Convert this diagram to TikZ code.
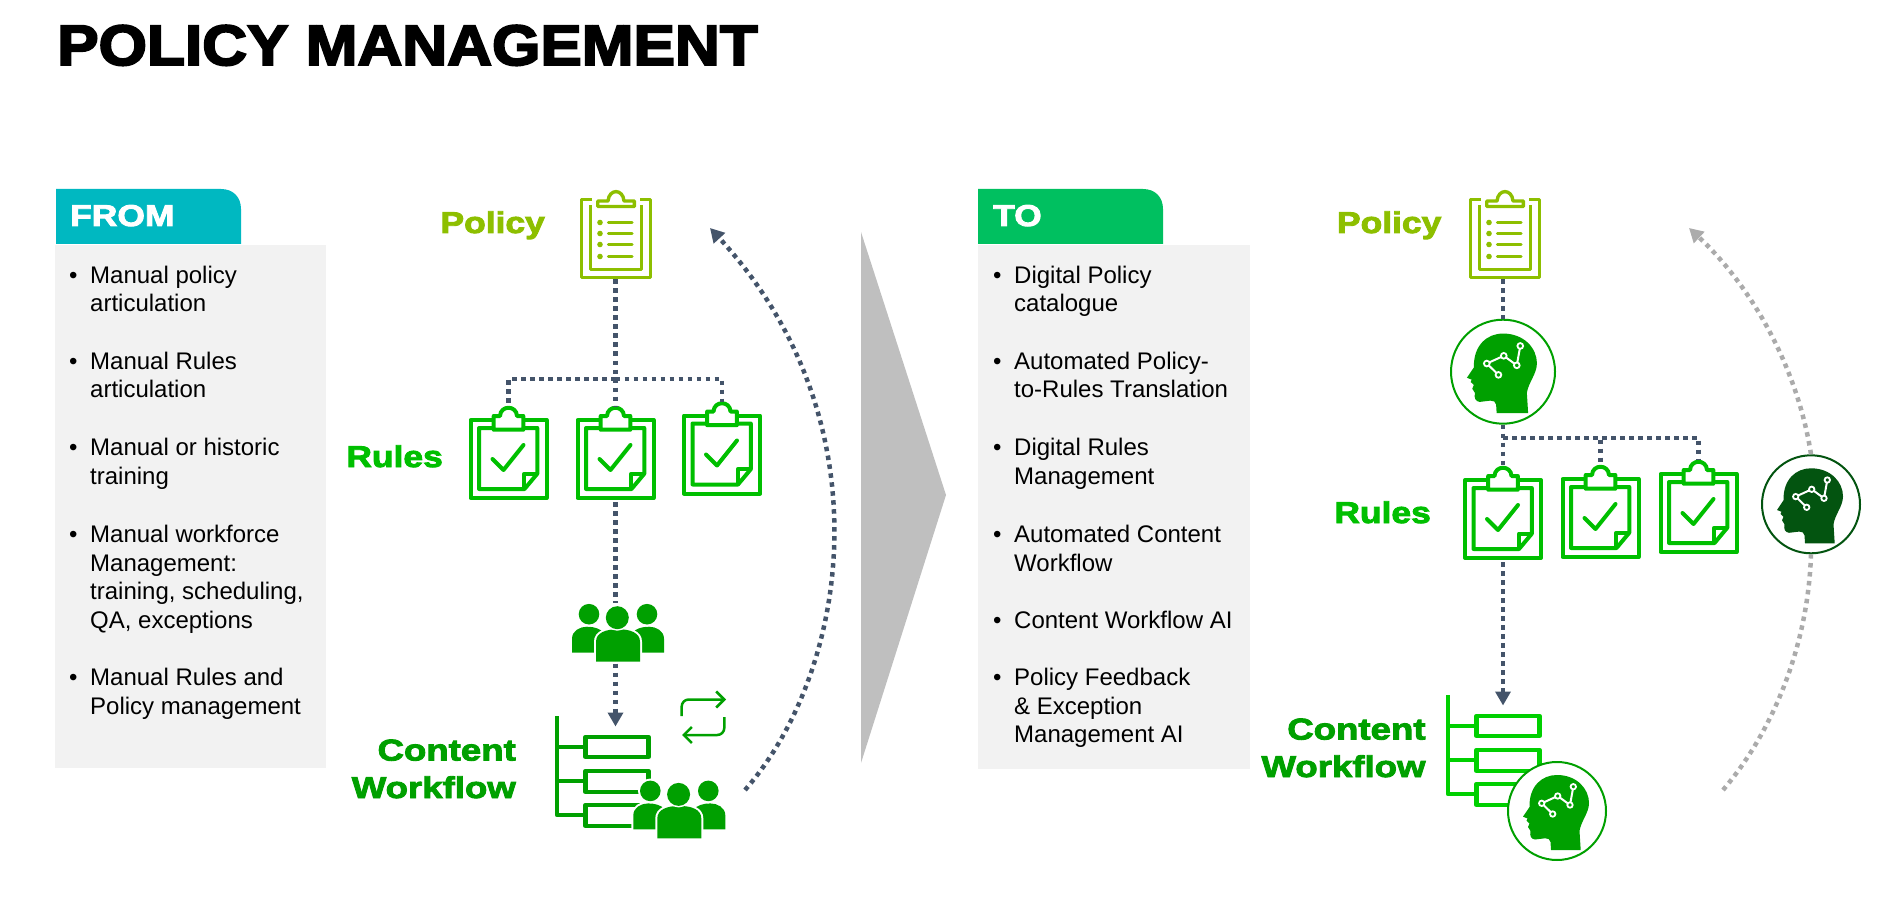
\documentclass[tikz,border=0pt]{standalone}
\usepackage{fontspec}
\usetikzlibrary{arrows.meta}
\setmainfont{Liberation Sans}
\newfontfamily\heavyfont[FakeBold=3,FakeStretch=1.18]{Liberation Sans Bold}
\newfontfamily\wideheavyfont[FakeBold=3,FakeStretch=1.22]{Liberation Sans Bold}
\newfontfamily\titlefont[FakeBold=3.5,FakeStretch=1.09]{Liberation Sans Bold}
\definecolor{fromTeal}{HTML}{00B8C1}
\definecolor{toGreen}{HTML}{00C060}
\definecolor{panelGrey}{HTML}{F2F2F2}
\definecolor{slateBlue}{HTML}{44546A}
\definecolor{policyGreen}{HTML}{8DBF00}
\definecolor{rulesGreen}{HTML}{00BF00}
\definecolor{flowGreen}{HTML}{00A000}
\definecolor{brightGreen}{HTML}{00D000}
\definecolor{darkGreen}{HTML}{035410}
\definecolor{arcGrey}{HTML}{ABABAB}

\tikzset{
    bigtitle/.style={anchor=base west, inner sep=0, font=\titlefont\fontsize{57}{60}\selectfont},
    tabtext/.style={anchor=base west, inner sep=0, text=white, font=\heavyfont\fontsize{30}{34}\selectfont},
    iconlabel/.style={anchor=base east, inner sep=0, align=right, font=\heavyfont\fontsize{30}{37.5}\selectfont},
    flowlabel/.style={iconlabel, text=flowGreen, font=\wideheavyfont\fontsize{30}{37.5}\selectfont},
    listitem/.style={anchor=north west, inner sep=0, align=left, font=\fontsize{24}{28.7}\selectfont},
    iconline/.style={line width=4pt, line join=round},
    flowline/.style={draw=slateBlue, line width=4.5pt, dash pattern=on 4.5pt off 4.5pt},
    flowarrow/.style={flowline, -{Triangle[width=15pt,length=14pt,fill=slateBlue]}},
    greyarrow/.style={draw=arcGrey, line width=4.5pt, dash pattern=on 4.5pt off 4.5pt},
    headring/.style={circle, draw=#1, fill=white, line width=2pt, inner sep=0},
    pics/policyclip/.style={code={
        \draw[iconline, policyGreen, line width=3.4pt] (-24,-39) -- (-34.5,-39) -- (-34.5,39) -- (34.5,39) -- (34.5,-39) -- (24,-39);
        \draw[iconline, policyGreen, line width=3.4pt] (-25.3,-33) -- (-25.3,31) -- (25.3,31) -- (25.3,-33);
        \draw[iconline, policyGreen, line width=3.4pt] (-8,-37.5) -- (-18.3,-37.5) -- (-18.3,-32) -- (18.3,-32) -- (18.3,-37.5) -- (8,-37.5) .. controls (7,-50) and (-7,-50) .. cycle;
        \foreach \ly in {-16,-5,6,18} {
            \fill[policyGreen] (-16,\ly) circle (2.8pt);
            \draw[policyGreen, line width=3.4pt, line cap=round] (-7.5,\ly) -- (16,\ly);
        }
        \coordinate (-bot) at (0,41);
    }},
    pics/rulesclip/.style={code={
        \draw[iconline, rulesGreen] (-15,-39) -- (-38,-39) -- (-38,39) -- (38,39) -- (38,-39) -- (15,-39);
        \draw[iconline, rulesGreen] (-15,-31) -- (-29.5,-31) -- (-29.5,30) -- (16,30) -- (28.8,14.7) -- (28.8,-31) -- (15,-31);
        \draw[iconline, rulesGreen] (15.8,30) -- (15.8,14.7) -- (28.8,14.7);
        \draw[iconline, rulesGreen] (-8.5,-43) -- (-14.8,-43) -- (-14.8,-29.3) -- (14.8,-29.3) -- (14.8,-43) -- (8.5,-43) .. controls (8,-54) and (-8,-54) .. cycle;
        \draw[iconline, rulesGreen, line cap=round] (-16,0) -- (-5,11) -- (15,-14);
        \coordinate (-top) at (0,-53);
        \coordinate (-bot) at (0,43);
    }},
    pics/workflow/.style={code={
        \draw[iconline, #1, line width=4.3pt] (0,0) -- (0,99) -- (28.5,99);
        \draw[iconline, #1, line width=4.3pt] (0,31) -- (28.5,31);
        \draw[iconline, #1, line width=4.3pt] (0,65) -- (28.5,65);
        \draw[iconline, #1, line width=4.3pt] (28.5,21) rectangle (91.5,41);
        \draw[iconline, #1, line width=4.3pt] (28.5,55) rectangle (91.5,76);
        \draw[iconline, #1, line width=4.3pt] (28.5,89) rectangle (91.5,110);
        \coordinate (-top) at (57,10.5);
    }},
    pics/crowd/.style={code={
        \fill[flowGreen, preaction={draw=white, line width=4pt}] (-46,20) -- (-46,6) .. controls (-46,-2) and (-38,-6) .. (-31,-6) .. controls (-24,-6) and (-18,-4) .. (-14,0) -- (-14,20) -- cycle;
        \fill[flowGreen, preaction={draw=white, line width=4pt}] (46,20) -- (46,6) .. controls (46,-2) and (38,-6) .. (31,-6) .. controls (24,-6) and (18,-4) .. (14,0) -- (14,20) -- cycle;
        \fill[flowGreen, preaction={draw=white, line width=4pt}] (-22,29) -- (-22,9) .. controls (-22,0) and (-12,-3.5) .. (0,-3.5) .. controls (12,-3.5) and (22,0) .. (22,9) -- (22,29) -- cycle;
        \fill[flowGreen, preaction={draw=white, line width=4pt}] (-29,-18.5) circle (10.3pt);
        \fill[flowGreen, preaction={draw=white, line width=4pt}] (29,-18.5) circle (10.3pt);
        \fill[flowGreen, preaction={draw=white, line width=3pt}] (-0.7,-15) circle (11.5pt);
        \coordinate (-top) at (-3,-29.5);
        \coordinate (-bot) at (-3,31);
    }},
    pics/brainhead/.style={code={
        \fill[#1] (-34,5.7) -- (-27.5,-4) .. controls (-28,-25) and (-15,-36) .. (0,-36) .. controls (20,-36) and (32,-22) .. (32,-8) .. controls (32,2) and (24,10) .. (22.5,20) -- (23.7,39) -- (-6,39) -- (-6.5,31) .. controls (-7,28) and (-9,27.3) .. (-12,27.3) -- (-22,28.5) .. controls (-26,28) and (-27.5,25) .. (-26.5,20) -- (-29,16) -- (-27.5,12.5) -- (-30.5,9.7) -- (-29.5,7.5) -- cycle;
        \draw[white, line width=2pt] (-4.3,3) -- (-15.3,-7.7) -- (0.7,-15) -- (13,-6) -- (16.3,-24.3);
        \foreach \px/\py in {-4.3/3, -15.3/-7.7, 0.7/-15, 13/-6, 16.3/-24.3} {
            \draw[white, fill=#1, line width=1.8pt] (\px,\py) circle (2.7pt);
        }
    }}
}

\begin{document}
\begin{tikzpicture}[x=1pt, y=-1pt]
    \useasboundingbox (0,0) rectangle (1904,901);

    \node[bigtitle] (title) at (57,65) {POLICY MANAGEMENT};

    % from panel
    \fill[panelGrey] (54.5,245) rectangle (326,768);
    \fill[fromTeal] (56,244) -- (56,189) -- (221,189) .. controls (233,189) and (241,197) .. (241,209) -- (241,244) -- cycle;
    \node[tabtext] (fromtab) at (70,226) {FROM};
    \foreach \y/\txt in {265.5/{Manual policy\\articulation}, 351.5/{Manual Rules\\articulation}, 438/{Manual or historic\\training}, 525/{Manual workforce\\Management:\\training, scheduling,\\QA, exceptions}, 668/{Manual Rules and\\Policy management}} {
        \node[listitem] (fromitem\y) at (90,\y) {\txt};
        \node[listitem] (frombullet\y) at (69,\y) {•\vphantom{Ml}};
    }

    % to panel
    \fill[panelGrey] (978,245) rectangle (1250,769);
    \fill[toGreen] (978,244) -- (978,189) -- (1143,189) .. controls (1155,189) and (1163,197) .. (1163,209) -- (1163,244) -- cycle;
    \node[tabtext] (totab) at (993,226) {TO};
    \foreach \y/\txt in {265.5/{Digital Policy\\catalogue}, 351.5/{Automated Policy-\\to-Rules Translation}, 438/{Digital Rules\\Management}, 525/{Automated Content\\Workflow}, 610.5/{Content Workflow AI}, 668/{Policy Feedback\\\& Exception\\Management AI}} {
        \node[listitem] (toitem\y) at (1014,\y) {\txt};
        \node[listitem] (tobullet\y) at (993,\y) {•\vphantom{Ml}};
    }

    % big arrow between the panels
    \fill[black!25] (861,232) -- (946,495) -- (861,763) -- cycle;

    % from side, icons
    \node[iconlabel, text=policyGreen] (policylabelA) at (545,233) {Policy};
    \pic (policyA) at (616,238.5) {policyclip};
    \node[iconlabel, text=rulesGreen] (ruleslabelA) at (443,467) {Rules};
    \pic (rulesA1) at (508.5,459) {rulesclip};
    \pic (rulesA2) at (615.5,459) {rulesclip};
    \pic (rulesA3) at (722,454.5) {rulesclip};
    \node[flowlabel] (flowlabelA) at (516,798) {Content\\Workflow};
    \pic (flowA) at (557,716) {workflow=flowGreen};
    \pic (crowdA) at (618,632.7) {crowd};
    \pic (crowdB) at (679.3,809.4) {crowd};
    \draw[flowGreen, line width=2.5pt, rounded corners=7pt, -{Straight Barb[length=8pt,width=16pt]}] (681.7,716) -- (681.7,699.5) -- (726,699.5);
    \draw[flowGreen, line width=2.5pt, rounded corners=7pt, -{Straight Barb[length=8pt,width=16pt]}] (724.3,717) -- (724.3,735) -- (682,735);

    % from side, connectors
    \coordinate (splitA) at (615.5,379);
    \draw[flowline] (rulesA2-top |- policyA-bot) -- (rulesA2-top);
    \draw[flowline] (splitA) -| (rulesA1-top);
    \draw[flowline] (splitA) -| (rulesA3-top);
    \draw[flowline] (rulesA2-bot) -- (rulesA2-bot |- crowdA-top);
    \draw[flowarrow] (rulesA2-bot |- crowdA-bot) -- (rulesA2-bot |- flowA-top);
    \coordinate (arcstartA) at (745,790);
    \coordinate (arcendA) at (710,228);
    \draw[flowarrow] (arcstartA) .. controls (850,670) and (887,420) .. (arcendA);

    % to side, icons
    \node[iconlabel, text=policyGreen] (policylabelB) at (1441.5,233) {Policy};
    \pic (policyB) at (1505,238.5) {policyclip};
    \node[iconlabel, text=rulesGreen] (ruleslabelB) at (1431,523) {Rules};
    \pic (rulesB1) at (1503,519) {rulesclip};
    \pic (rulesB2) at (1600.5,518) {rulesclip};
    \pic (rulesB3) at (1698.5,513) {rulesclip};
    \node[flowlabel] (flowlabelB) at (1425.7,777) {Content\\Workflow};
    \pic (flowB) at (1448,695) {workflow=brightGreen};

    % to side, connectors
    \node[headring=flowGreen, minimum size=104pt] (headA) at (1503,371.7) {};
    \node[headring=darkGreen, minimum size=98pt] (headB) at (1811,504.3) {};
    \node[headring=flowGreen, minimum size=98pt] (headC) at (1557,811) {};
    \coordinate (splitB) at (1503,438);
    \draw[flowline] (headA.north |- policyB-bot) -- (headA.north);
    \draw[flowline] (headA.south) -- (rulesB1-top);
    \draw[flowline] (splitB) -| (rulesB2-top);
    \draw[flowline] (splitB) -| (rulesB3-top);
    \draw[flowarrow] (rulesB1-bot) -- (rulesB1-bot |- flowB-top);
    \coordinate (arcstartB) at (1723,790);
    \coordinate (arcendB) at (1689,228);
    \draw[greyarrow, -{Triangle[width=15pt,length=14pt,fill=arcGrey]}] (headB.north) .. controls (1797,365) and (1750,285) .. (arcendB);
    \draw[greyarrow] (arcstartB) .. controls (1770,735) and (1808,650) .. (headB.south);

    \pic[scale=1.06] at (headA) {brainhead=flowGreen};
    \pic at (headB) {brainhead=darkGreen};
    \pic at (headC) {brainhead=flowGreen};
\end{tikzpicture}
\end{document}
